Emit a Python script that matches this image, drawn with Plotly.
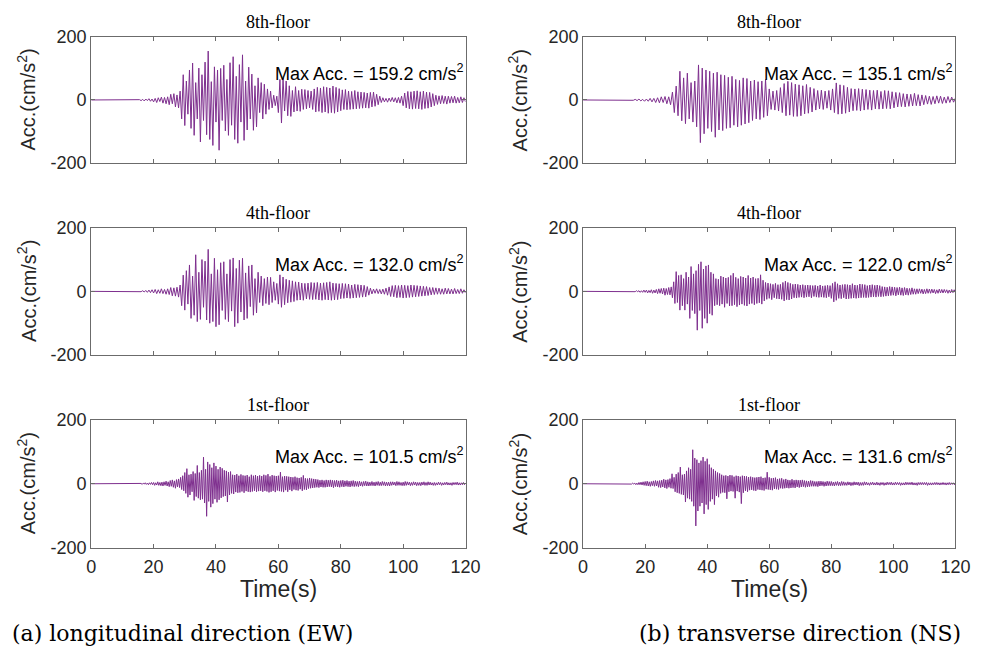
import numpy as np
import plotly.graph_objects as go

# ---------------------------------------------------------------------------
# Recorded floor accelerations (cm/s^2). Each record is flat (0) until its
# start time, then sampled evenly up to 120 s with the values listed below.
# ---------------------------------------------------------------------------
T_END = 120.0

# Longitudinal direction (EW)
ew_8f_start = 15.0
ew_8f = [
    0, 1, -2, 2, -3, 3, -2, 4, -4, 3,
    -6, 5, -8, 7, -5, 9, -10, 8, -12, 10,
    -15, 18, -12, 20, -22, 16, -25, 28, -60, 80,
    -81, 60, -45, 95, -90, 117, -112, 55, -60, 101,
    -133, 80, -65, 120, -110, 155, -125, 58, -144, 105,
    -70, 95, -159.2, 100, -65, 110, -98, 65, -112, 118,
    -80, 137, -125, 75, -137, 112, -70, 143, -128, 60,
    -95, 104, -60, 82, -96, 45, -85, 70, -40, 55,
    -60, 50, -45, 35, -30, 28, -25, 15, -18, 12,
    -40, 65, -73, 70, -35, 60, -50, 45, -52, 30,
    -38, 42, -35, 30, -36, 34, -30, 33, -28, 30,
    -25, 28, -30, 35, -38, 40, -36, 38, -40, 42,
    -38, 40, -42, 38, -40, 44, -42, 40, -38, 36,
    -34, 32, -30, 33, -31, 28, -30, 27, -29, 30,
    -28, 26, -27, 25, -26, 24, -25, 22, -26, 24,
    -22, 25, -20, 18, -15, 12, -8, 7, -6, 5,
    -7, 6, -5, 8, -6, 7, -9, 8, -10, 12,
    -18, 22, -25, 27, -28, 26, -29, 28, -27, 29,
    -28, 26, -30, 28, -27, 25, -26, 24, -22, 20,
    -18, 15, -14, 13, -12, 14, -11, 12, -13, 12,
    -10, 11, -9, 12, -10, 8, -9, 10, -8, 7,
    -6,
]

ew_4f_start = 15.0
ew_4f = [
    0, 1, -1, 2, -2, 3, -3, 4, -4, 5,
    -5, 6, -7, 5, -6, 8, -7, 6, -9, 8,
    -10, 12, -14, 11, -15, 13, -18, 20, -45, 51,
    -59, 65, -40, 83, -85, 48, -75, 115, -95, 60,
    -88, 100, -50, 95, -90, 132.0, -100, 55, -95, 104,
    -111, 68, -105, 90, -60, 93, -88, 55, -95, 100,
    -62, 105, -111, 72, -100, 98, -65, 104, -90, 58,
    -85, 80, -48, 83, -75, 40, -68, 60, -35, 48,
    -45, 40, -38, 45, -42, 44, -35, 30, -28, 25,
    -40, 52, -50, 45, -42, 38, -36, 35, -34, 33,
    -32, 30, -28, 29, -27, 26, -28, 25, -24, 26,
    -25, 28, -26, 27, -25, 28, -27, 26, -28, 27,
    -26, 28, -27, 30, -28, 26, -27, 25, -26, 24,
    -23, 25, -22, 24, -21, 23, -22, 20, -21, 22,
    -20, 21, -19, 20, -18, 19, -17, 15, -12, 10,
    -8, 7, -6, 8, -7, 6, -8, 7, -9, 10,
    -12, 14, -16, 18, -17, 19, -20, 18, -19, 20,
    -21, 19, -20, 18, -19, 20, -18, 19, -17, 18,
    -16, 17, -15, 16, -14, 15, -13, 12, -11, 12,
    -10, 11, -9, 10, -9, 8, -9, 10, -8, 9,
    -8, 7, -8, 9, -7, 6, -7, 8, -6, 5,
    -5,
]

ew_1f_start = 15.0
ew_1f = [
    0, 1, -1, 1, -2, 2, -1, 3, -2, 2, -3, 3, -2, 4, -3,
    4, -5, 3, -4, 6, -5, 4, -6, 5, -7, 6, -5, 8, -7, 6,
    -9, 10, -8, 12, -11, 9, -14, 13, -10, 15, -12, 20, -18, 25, -22,
    35, -30, 47, -42, 28, -35, 30, -25, 38, -52, 32, -40, 57, -45, 35,
    -50, 42, -48, 83, -60, 45, -101.5, 68, -55, 60, -73, 50, -62, 65, -48,
    55, -58, 45, -50, 52, -44, 48, -40, 42, -38, 40, -57, 36, -35, 38,
    -30, 28, -32, 27, -26, 30, -28, 25, -27, 29, -24, 26, -28, 25, -23,
    27, -25, 22, -26, 28, -24, 25, -22, 27, -25, 24, -23, 26, -22, 24,
    -25, 28, -22, 26, -24, 30, -27, 23, -25, 27, -22, 25, -26, 24, -21,
    25, -23, 36, -24, 22, -26, 24, -20, 23, -25, 22, -19, 21, -23, 20,
    -18, 22, -20, 19, -21, 18, -17, 20, -22, 26, -18, 17, -19, 16, -15,
    18, -14, 16, -13, 15, -12, 14, -11, 13, -12, 11, -10, 12, -11, 10,
    -11, 12, -10, 11, -9, 12, -10, 11, -12, 10, -9, 11, -10, 9, -11,
    10, -9, 11, -10, 9, -8, 10, -9, 8, -10, 9, -8, 10, -9, 8,
    -8, 7, -9, 8, -7, 6, -8, 7, -6, 8, -7, 6, -7, 5, -6,
    7, -6, 5, -7, 6, -5, 7, -6, 5, -6, 7, -5, 6, -7, 5,
    -6, 5, -7, 6, -5, 6, -4, 5, -6, 7, -5, 6, -5, 4, -6,
    5, -6, 7, -5, 6, -4, 5, -6, 4, -5, 6, -4, 5, -6, 4,
    -5, 4, -6, 5, -4, 6, -5, 4, -5, 6, -4, 5, -4, 3, -5,
    4, -5, 3, -4, 5, -3, 4, -5, 3, -4, 4, -3, 5, -4, 3,
    -4, 3, -5, 4, -3, 4, -3, 5, -4, 3, -4, 3, -3, 4, -3,
    2,
]

# Transverse direction (NS)
ns_8f_start = 15.0
ns_8f = [
    0, 1, -1, 2, -2, 3, -3, 2, -4, 3,
    -4, 5, -6, 5, -8, 7, -9, 10, -8, 11,
    -12, 10, -15, 25, -40, 44, -50, 91, -66, 70,
    -75, 85, -60, 55, -70, 60, -85, 111, -135.1, 101,
    -107, 95, -90, 91, -100, 85, -118, 88, -95, 80,
    -97, 78, -90, 72, -88, 75, -80, 65, -85, 62,
    -80, 70, -76, 68, -72, 60, -65, 63, -60, 58,
    -62, 60, -55, 65, -50, 35, -30, 28, -32, 30,
    -35, 39, -40, 52, -50, 59, -48, 55, -52, 50,
    -52, 48, -50, 45, -44, 49, -42, 40, -38, 36,
    -32, 30, -28, 31, -30, 28, -26, 30, -32, 35,
    -40, 54, -45, 48, -44, 46, -42, 40, -38, 36,
    -34, 35, -33, 36, -35, 34, -32, 33, -30, 31,
    -32, 30, -28, 31, -29, 27, -28, 30, -27, 29,
    -28, 26, -25, 24, -22, 23, -21, 20, -22, 19,
    -20, 18, -19, 21, -18, 17, -19, 16, -15, 14,
    -13, 12, -14, 11, -12, 13, -10, 12, -11, 9,
    -10, 11, -8, 9, -7, 6,
]

ns_4f_start = 16.0
ns_4f = [
    0, 1, -1, 2, -1, 2, -3, 2, -3, 4,
    -3, 4, -5, 3, -4, 5, -6, 4, -5, 6,
    -7, 8, -6, 9, -8, 10, -12, 9, -10, 12,
    -11, 14, -20, 30, -38, 62, -35, 50, -59, 52,
    -45, 40, -59, 60, -40, 45, -85, 78, -60, 55,
    -70, 65, -122.0, 85, -60, 93, -116, 70, -85, 80,
    -100, 83, -70, 60, -75, 55, -45, 40, -42, 38,
    -45, 48, -40, 45, -50, 42, -38, 44, -46, 50,
    -45, 57, -42, 44, -48, 40, -43, 47, -40, 45,
    -44, 42, -46, 50, -40, 42, -38, 45, -42, 40,
    -38, 41, -36, 52, -40, 35, -30, 28, -25, 26,
    -22, 24, -26, 22, -20, 25, -23, 21, -24, 22,
    -25, 28, -30, 32, -26, 28, -27, 25, -24, 22,
    -20, 23, -21, 22, -19, 20, -18, 21, -20, 19,
    -18, 20, -17, 19, -20, 18, -16, 19, -18, 17,
    -19, 20, -18, 17, -19, 18, -20, 19, -17, 18,
    -22, 25, -33, 30, -28, 24, -22, 20, -23, 21,
    -20, 22, -24, 21, -23, 20, -22, 24, -21, 20,
    -22, 19, -21, 23, -20, 22, -19, 21, -20, 18,
    -19, 20, -18, 21, -17, 19, -18, 20, -16, 18,
    -17, 15, -16, 14, -15, 13, -14, 15, -13, 14,
    -12, 13, -14, 12, -11, 13, -12, 11, -13, 12,
    -11, 10, -12, 9, -10, 11, -9, 8, -9, 8,
    -7, 8, -6, 7, -8, 6, -7, 8, -6, 7,
    -6, 7, -5, 6, -7, 5, -6, 7, -5, 6,
    -5, 6, -4, 5, -6, 4, -5, 6, -4, 5,
    -4,
]

ns_1f_start = 15.0
ns_1f = [
    0, 1, -1, 2, -1, 2, -3, 2, -3, 4, -3, 5, -4, 6, -5,
    7, -6, 8, -7, 6, -8, 7, -6, 9, -8, 10, -7, 9, -11, 10,
    -12, 11, -10, 14, -13, 12, -15, 13, -11, 16, -14, 31, -15, 20, -25,
    30, -28, 35, -30, 52, -33, 28, -35, 30, -57, 40, -45, 50, -48, 45,
    -55, 106, -70, 80, -131.6, 75, -85, 65, -70, 72, -60, 83, -94, 70, -65,
    78, -80, 60, -55, 50, -48, 45, -65, 40, -38, 35, -42, 32, -30, 28,
    -27, 25, -28, 26, -47, 24, -25, 27, -23, 26, -24, 22, -45, 25, -23,
    24, -26, 22, -62, 25, -28, 24, -22, 23, -25, 21, -20, 22, -19, 20,
    -21, 19, -22, 20, -18, 21, -19, 22, -20, 18, -21, 19, -17, 36, -18,
    20, -19, 17, -20, 18, -16, 19, -17, 15, -18, 16, -14, 17, -15, 13,
    -14, 15, -13, 12, -14, 11, -13, 14, -12, 11, -13, 12, -10, 11, -12,
    11, -10, 12, -9, 10, -11, 9, -10, 8, -9, 10, -8, 9, -8, 7,
    -8, 7, -9, 8, -7, 8, -6, 7, -8, 6, -7, 8, -6, 7, -6,
    7, -6, 5, -7, 6, -5, 7, -6, 5, -6, 7, -5, 6, -5, 4,
    -5, 6, -4, 5, -6, 4, -5, 6, -4, 5, -4, 5, -6, 4, -5,
    4, -5, 6, -4, 5, -4, 3, -5, 4, -3, 5, -4, 3, -4, 5,
    -4, 3, -5, 4, -3, 4, -5, 3, -4, 5, -3, 4, -3, 5, -4,
    3, -4, 5, -3, 4, -3, 4, -5, 3, -4, 3, -4, 5, -3, 4,
    -3, 4, -3, 5, -4, 3, -4, 3, -5, 4, -3, 4, -3, 4, -3,
    4, -3, 4, -5, 3, -4, 3, -4, 3, -3, 4, -3, 4, -3, 3,
    -4, 3, -3, 4, -3, 3, -4, 3, -3, 4, -3, 3, -2, 3, -3,
    2,
]

floor_titles = ["8th-floor", "4th-floor", "1st-floor"]
captions = ["(a) longitudinal direction (EW)", "(b) transverse direction (NS)"]
time_ticks = [0, 20, 40, 60, 80, 100, 120]
acc_ticks = [-200, 0, 200]
acc_tick_text = ["-200", "0", "200"]

# column -> list of (start, values) per floor row
records = [
    [(ew_8f_start, ew_8f), (ew_4f_start, ew_4f), (ew_1f_start, ew_1f)],
    [(ns_8f_start, ns_8f), (ns_4f_start, ns_4f), (ns_1f_start, ns_1f)],
]

# ---------------------------------------------------------------------------
# Layout geometry (page pixels)
# ---------------------------------------------------------------------------
W, H = 991, 653
PAGE_TOP, PAGE_SCALE = 8.0, 0.975     # vertical placement of the figure
COL_PX = [(88, 470), (590, 970)]
ROW_PX = [(35, 162), (227, 355), (420, 549)]
YTITLE_X = [22, 524]
LINE_COLOR = "#7E2F8E"
AXIS_COLOR = "#6b6b6b"
SANS = "Liberation Sans, Arial, sans-serif"
SERIF = "Liberation Serif, Times New Roman, serif"
CAPTION_FONT = "DejaVu Serif, serif"


def px_x(x):
    return x / W


def px_y(y):
    return 1 - ((y - PAGE_TOP) / PAGE_SCALE) / H


fig = go.Figure()
annotations = []

n = 0
for c, (x0, x1) in enumerate(COL_PX):
    for r, (y0, y1) in enumerate(ROW_PX):
        n += 1
        sfx = "" if n == 1 else str(n)
        start, vals = records[c][r]
        vals = np.asarray(vals, dtype=float)
        t = np.concatenate([[0.0], np.linspace(start, T_END, len(vals))])
        a = np.concatenate([[0.0], vals])

        fig.add_trace(go.Scatter(
            x=t, y=a, mode="lines",
            line=dict(color=LINE_COLOR, width=1),
            xaxis="x" + sfx, yaxis="y" + sfx,
            showlegend=False, hoverinfo="skip",
        ))

        common = dict(
            ticks="inside", ticklen=4, tickcolor=AXIS_COLOR, tickwidth=1,
            showline=True, linecolor=AXIS_COLOR, linewidth=1, mirror="ticks",
            showgrid=False, zeroline=False,
            tickfont=dict(family=SANS, size=18, color="#262626"),
        )
        fig.layout["xaxis" + sfx] = dict(
            domain=[px_x(x0), px_x(x1)], anchor="y" + sfx,
            range=[0, 120], tickvals=time_ticks, ticklabelstandoff=3,
            showticklabels=(r == 2), **common,
        )
        fig.layout["yaxis" + sfx] = dict(
            domain=[px_y(y1), px_y(y0)], anchor="x" + sfx,
            range=[-200, 200], tickvals=acc_ticks, ticktext=acc_tick_text,
            **common,
        )

        xc = (x0 + x1) / 2
        # panel title
        annotations.append(dict(
            text=floor_titles[r], x=px_x(xc), y=px_y(y0 - 15),
            xref="paper", yref="paper", showarrow=False,
            xanchor="center", yanchor="middle",
            font=dict(family=SERIF, size=18, color="black"),
        ))
        # y-axis title
        annotations.append(dict(
            text="Acc.(cm/s<sup>2</sup>)", x=px_x(YTITLE_X[c]),
            y=px_y((y0 + y1) / 2),
            xref="paper", yref="paper", showarrow=False, textangle=-90,
            xanchor="center", yanchor="middle",
            font=dict(family=SANS, size=20, color="#262626"),
        ))
        # peak value label
        peak = float(np.max(np.abs(vals)))
        annotations.append(dict(
            text=f"Max Acc. = {peak:.1f} cm/s<sup>2</sup>",
            x=120, y=88, xref="x" + sfx, yref="y" + sfx,
            showarrow=False, xanchor="right", yanchor="middle",
            font=dict(family=SANS, size=18, color="black"),
        ))

    xc = (x0 + x1) / 2
    annotations.append(dict(
        text="Time(s)", x=px_x(xc), y=px_y(590),
        xref="paper", yref="paper", showarrow=False,
        xanchor="center", yanchor="middle",
        font=dict(family=SANS, size=23, color="#262626"),
    ))

annotations.append(dict(
    text=captions[0], x=px_x(5), y=px_y(635), xref="paper", yref="paper",
    showarrow=False, xanchor="left", yanchor="middle",
    font=dict(family=CAPTION_FONT, size=22, color="black"),
))
annotations.append(dict(
    text=captions[1], x=px_x(645), y=px_y(635), xref="paper", yref="paper",
    showarrow=False, xanchor="left", yanchor="middle",
    font=dict(family=CAPTION_FONT, size=22, color="black"),
))

fig.update_layout(
    width=W, height=H, autosize=False,
    margin=dict(l=0, r=0, t=0, b=0),
    paper_bgcolor="white", plot_bgcolor="white",
    annotations=annotations,
)

fig.write_html("out.html")
